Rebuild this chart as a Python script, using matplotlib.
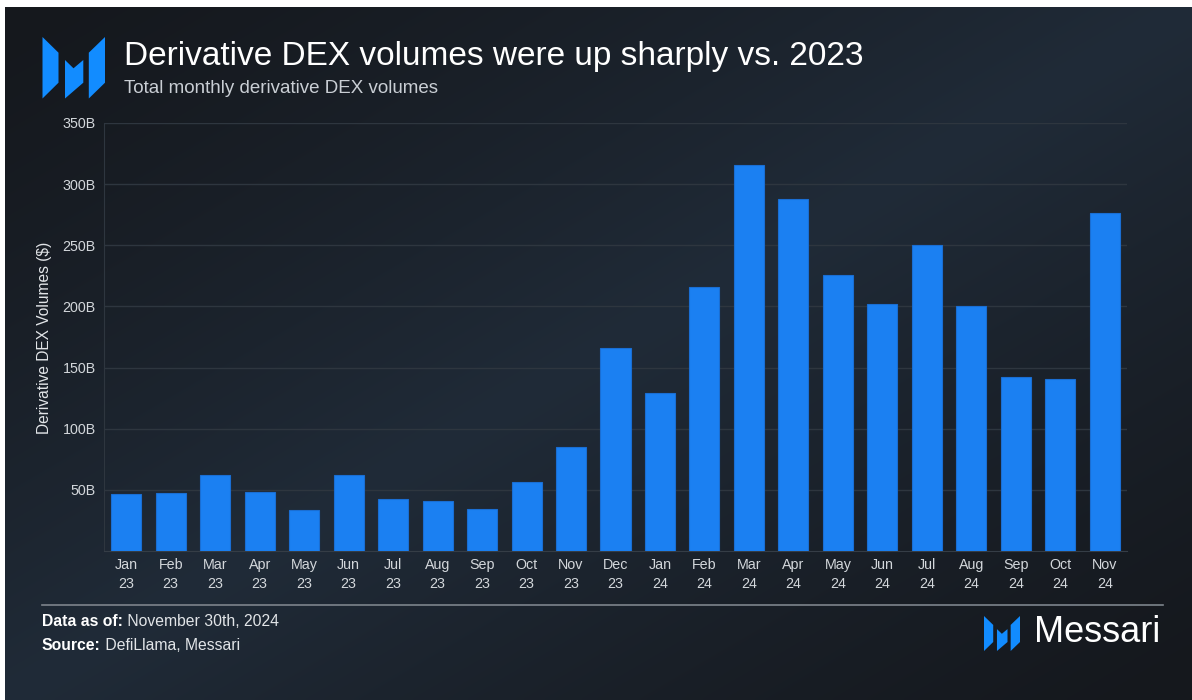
import numpy as np
import matplotlib.pyplot as plt
from matplotlib.patches import Polygon

plt.rcParams['font.family'] = ['Liberation Sans', 'DejaVu Sans']

# Données (milliards de $)
months = ["Jan", "Feb", "Mar", "Apr", "May", "Jun", "Jul", "Aug", "Sep", "Oct", "Nov", "Dec",
          "Jan", "Feb", "Mar", "Apr", "May", "Jun", "Jul", "Aug", "Sep", "Oct", "Nov"]
years = ["23"] * 12 + ["24"] * 11
volumes = [46.6, 47.5, 62, 48.5, 33.8, 62, 42.5, 41, 34, 56.5, 85, 166,
           129.3, 215.5, 316, 288, 226, 202, 250, 200, 142, 141, 276.6]
yticks = [50, 100, 150, 200, 250, 300, 350]

W, H = 1192, 700
BAR = "#1b80f2"
GRID = "#2e363f"

fig = plt.figure(figsize=(W / 100, H / 100), dpi=100, facecolor="white")

# Fond en dégradé (coordonnées en pixels)
bg = fig.add_axes([0, 0, 1, 1])
bg.set_xlim(0, W)
bg.set_ylim(H, 0)
bg.axis("off")
gx, gy = np.meshgrid(np.linspace(0, 1, 300), np.linspace(0, 1, 200))
f = np.clip(1 - np.abs(gx + gy - 1.0), 0, 1) ** 1.3
dark = np.array([0x15, 0x18, 0x1d]) / 255
light = np.array([0x20, 0x2b, 0x38]) / 255
img = dark + (light - dark) * f[..., None]
bg.imshow(img, extent=[5, W, H, 7], aspect="auto", interpolation="bilinear")


def logo(x0, y0, w, h):
    # logo Messari : trois pièces inclinées (unités 62.5 x 61.5)
    pieces = [[(0, 0), (16, 15.7), (16, 45.7), (0, 61.5)],
              [(22.5, 23), (31, 31.3), (40.8, 23), (40.8, 45.7), (22.5, 61.5)],
              [(46.3, 15.7), (62.5, 0), (62.5, 45.7), (46.3, 61.5)]]
    for p in pieces:
        pts = [(x0 + px / 62.5 * w, y0 + py / 61.5 * h) for px, py in p]
        bg.add_patch(Polygon(pts, closed=True, color="#128cff", lw=0))


logo(42.5, 37, 62.5, 61.5)
logo(984, 616, 36, 35)

bg.text(124, 57, "Derivative DEX volumes were up sharply vs. 2023", fontsize=24,
        color="white", va="center", ha="left")
bg.text(124, 88.5, "Total monthly derivative DEX volumes", fontsize=13.5,
        color="#c9ced4", va="center", ha="left")
bg.text(45, 338, "Derivative DEX Volumes ($)", rotation=90, fontsize=11.2,
        color="#e2e5e8", va="center", ha="center")

bg.plot([42, 1163], [605, 605], color="#7d848c", lw=1.2)
t1 = bg.text(42, 621, "Data as of:", fontsize=11.3, fontweight="bold", color="white", va="center")
bg.annotate(" November 30th, 2024", xy=(1, 0.5), xycoords=t1, va="center", fontsize=11.3, color="#e2e5e8")
t2 = bg.text(42, 645, "Source:", fontsize=11.3, fontweight="bold", color="white", va="center")
bg.annotate(" DefiLlama, Messari", xy=(1, 0.5), xycoords=t2, va="center", fontsize=11.3, color="#e2e5e8")
bg.text(1034, 633, "Messari", fontsize=26, color="white", va="center", ha="left")

# Graphique principal
ax = fig.add_axes([104 / W, 1 - 551 / H, 1023 / W, 428 / H])
ax.patch.set_alpha(0)
x = np.arange(len(volumes))
ax.bar(x, volumes, width=0.675, color=BAR, edgecolor="#1a6ed3", lw=0.8, zorder=3)
ax.set_xlim(-0.5, len(volumes) - 0.5)
ax.set_ylim(0, 350)
ax.set_yticks(yticks)
ax.set_yticklabels([f"{v}B" for v in yticks])
ax.set_xticks(x)
ax.set_xticklabels([f"{m}\n{y}" for m, y in zip(months, years)], linespacing=1.45)
ax.tick_params(axis="both", length=0, colors="#d3d7db", labelsize=10.3)
ax.tick_params(axis="y", pad=6)
ax.tick_params(axis="x", pad=5)
ax.grid(axis="y", color=GRID, lw=1, zorder=0)
for s in ["top", "right"]:
    ax.spines[s].set_visible(False)
ax.spines["left"].set_color(GRID)
ax.spines["bottom"].set_color("#353d46")

fig.savefig("out.png", dpi=100, facecolor=fig.get_facecolor())
